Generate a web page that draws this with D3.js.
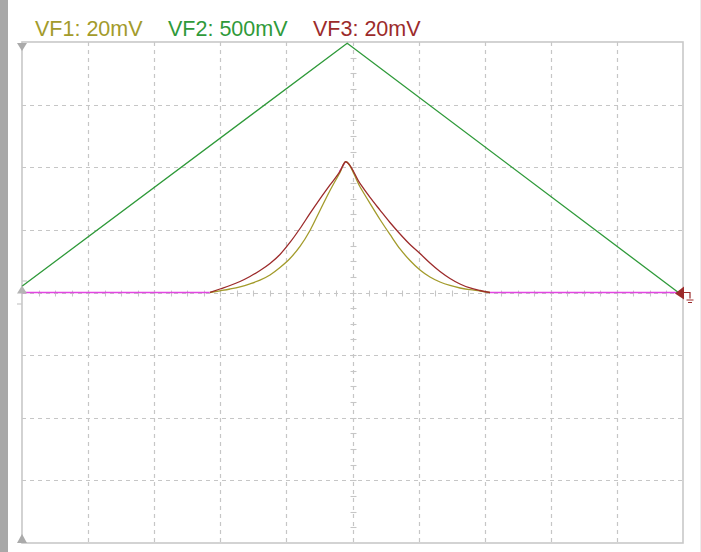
<!DOCTYPE html>
<html>
<head>
<meta charset="utf-8">
<script src="https://cdn.jsdelivr.net/npm/d3@7"></script>
<style>
  html, body { margin: 0; padding: 0; background: #ffffff; }
  svg { display: block; }
</style>
</head>
<body>
<svg id="chart" width="701" height="552"></svg>
<script>
// ---- data (x in divisions 0..10, y in divisions -4..4) ----
const legendLabels = ["VF1: 20mV", "VF2: 500mV", "VF3: 20mV"];

const vf2Green = [[0, 0.10], [4.92, 3.98], [9.93, 0.0]];

const vf1Olive = [
  [2.844, 0], [2.995, 0.027], [3.147, 0.056], [3.298, 0.091], [3.449, 0.139], [3.601, 0.198],
  [3.752, 0.280], [3.903, 0.399], [4.054, 0.543], [4.206, 0.735], [4.357, 0.990],
  [4.508, 1.310], [4.660, 1.629], [4.811, 1.917], [4.897, 2.088],
  [5.113, 1.688], [5.265, 1.422], [5.416, 1.166], [5.567, 0.927], [5.719, 0.695],
  [5.870, 0.511], [6.021, 0.359], [6.172, 0.248], [6.324, 0.168], [6.475, 0.112],
  [6.626, 0.072], [6.778, 0.045], [6.929, 0.024], [7.080, 0]
];

const vf3Red = [
  [2.844, 0], [2.995, 0.056], [3.147, 0.112], [3.298, 0.176], [3.449, 0.256], [3.601, 0.351],
  [3.752, 0.463], [3.903, 0.607], [4.054, 0.799], [4.206, 1.022], [4.357, 1.262],
  [4.508, 1.494], [4.660, 1.717], [4.811, 1.933], [4.897, 2.088],
  [5.113, 1.741], [5.265, 1.518], [5.416, 1.316], [5.567, 1.118], [5.719, 0.935],
  [5.870, 0.767], [6.021, 0.623], [6.172, 0.471], [6.324, 0.335], [6.475, 0.224],
  [6.626, 0.136], [6.778, 0.072], [6.929, 0.032], [7.080, 0]
];

const vf4Magenta = [
  [0, 0], [2.84, 0], null,
  [4.80, 1.93], [4.89, 2.08], null,
  [7.08, 0], [10, 0]
];

const xDivisions = d3.range(0, 11);
const yDivisions = d3.range(-4, 5);

// ---- layout ----
const svg = d3.select("#chart");
const x = d3.scaleLinear().domain([0, 10]).range([22, 683]);
const y = d3.scaleLinear().domain([-4, 4]).range([543, 42]);

const gridColor = "#c6c6c6";
const colOlive = "#a39b2b";
const colGreen = "#2f9a3a";
const colRed = "#9c2b2b";
const colMagenta = "#e246e2";

// left gray bar
svg.append("rect").attr("x", 0).attr("y", 0).attr("width", 8).attr("height", 552).attr("fill", "#a8a8a8");
// faint right edge
svg.append("line").attr("x1", 700.5).attr("x2", 700.5).attr("y1", 0).attr("y2", 552)
  .attr("stroke", "#ececec").attr("stroke-width", 1);

// grid
const g = svg.append("g");
g.selectAll(".vg").data(xDivisions.filter(d => d > 0 && d < 10)).enter().append("line")
  .attr("x1", d => Math.round(x(d)) + 0.5).attr("x2", d => Math.round(x(d)) + 0.5)
  .attr("y1", y(4)).attr("y2", y(-4))
  .attr("stroke", gridColor).attr("stroke-width", 1.2).attr("stroke-dasharray", "4,4");
g.selectAll(".hg").data(yDivisions.filter(d => d > -4 && d < 4)).enter().append("line")
  .attr("y1", d => Math.round(y(d)) + 0.5).attr("y2", d => Math.round(y(d)) + 0.5)
  .attr("x1", x(0)).attr("x2", x(10))
  .attr("stroke", gridColor).attr("stroke-width", 1.2).attr("stroke-dasharray", "4,4");

// minor ticks on centre axes
const cx = Math.round(x(5)) + 0.5, cy = Math.round(y(0)) + 0.5;
g.selectAll(".mtx").data(d3.range(0.25, 10, 0.25)).enter().append("line")
  .attr("x1", d => Math.round(x(d)) + 0.5).attr("x2", d => Math.round(x(d)) + 0.5)
  .attr("y1", cy - 3).attr("y2", cy + 3)
  .attr("stroke", gridColor).attr("stroke-width", 1.1);
g.selectAll(".mty").data(d3.range(-3.75, 4, 0.25)).enter().append("line")
  .attr("y1", d => Math.round(y(d)) + 0.5).attr("y2", d => Math.round(y(d)) + 0.5)
  .attr("x1", cx - 3).attr("x2", cx + 3)
  .attr("stroke", gridColor).attr("stroke-width", 1.1);

// frame
svg.append("rect").attr("x", x(0)).attr("y", y(4)).attr("width", x(10) - x(0)).attr("height", y(-4) - y(4))
  .attr("fill", "none").attr("stroke", "#c8c8c8").attr("stroke-width", 1.6);

// traces
const line = d3.line().defined(d => d !== null).x(d => x(d[0])).y(d => y(d[1]));
const smooth = d3.line().x(d => x(d[0])).y(d => y(d[1])).curve(d3.curveMonotoneX);
const traces = svg.append("g").attr("fill", "none").attr("stroke-width", 1.3).attr("stroke-linejoin", "round");
traces.append("path").datum(vf4Magenta).attr("d", line).attr("stroke", colMagenta);
traces.append("path").datum(vf2Green).attr("d", line).attr("stroke", colGreen);
traces.append("path").datum(vf1Olive).attr("d", smooth).attr("stroke", colOlive);
traces.append("path").datum(vf3Red).attr("d", smooth).attr("stroke", colRed);

// markers
const mk = svg.append("g");
mk.append("path").attr("d", `M${x(0) - 5},${y(4) + 1} L${x(0) + 5},${y(4) + 1} L${x(0)},${y(4) + 9} Z`).attr("fill", "#aaaaaa");
mk.append("path").attr("d", `M${x(0) - 5},${y(-4)} L${x(0) + 5},${y(-4)} L${x(0)},${y(-4) - 9} Z`).attr("fill", "#aaaaaa");
mk.append("path").attr("d", `M${x(0) - 5},${y(0) + 1} L${x(0) + 5},${y(0) + 1} L${x(0)},${y(0) - 7} Z`).attr("fill", "#b4b4b4");
mk.append("line").attr("x1", x(0)).attr("x2", x(0) + 5).attr("y1", y(0) - 11.5).attr("y2", y(0) - 11.5).attr("stroke", "#c8c8c8").attr("stroke-width", 1.2);
mk.append("line").attr("x1", x(0) - 5).attr("x2", x(0)).attr("y1", y(0) + 11.5).attr("y2", y(0) + 11.5).attr("stroke", "#c8c8c8").attr("stroke-width", 1.2);
// right reference marker (dark red) with ground symbol
const rx = x(10), ry = y(0);
mk.append("path").attr("d", `M${rx - 8},${ry + 1} L${rx + 1},${ry - 6} L${rx + 1},${ry + 7} Z`).attr("fill", colRed);
mk.append("path").attr("d", `M${rx},${ry} H${rx + 7} V${ry + 6}`).attr("fill", "none").attr("stroke", colRed).attr("stroke-width", 1.2);
mk.append("line").attr("x1", rx + 3.5).attr("x2", rx + 10.5).attr("y1", ry + 7.5).attr("y2", ry + 7.5).attr("stroke", colRed).attr("stroke-width", 1);
mk.append("line").attr("x1", rx + 5).attr("x2", rx + 9).attr("y1", ry + 10).attr("y2", ry + 10).attr("stroke", colRed).attr("stroke-width", 1);

// legend
const legendX = [35, 168, 313];
const legendColors = [colOlive, colGreen, colRed];
svg.append("g").selectAll("text").data(legendLabels).enter().append("text")
  .attr("x", (d, i) => legendX[i]).attr("y", 36)
  .attr("fill", (d, i) => legendColors[i])
  .attr("font-family", "'Liberation Sans', Arial, sans-serif")
  .attr("font-size", "21.5px")
  .text(d => d);
</script>
</body>
</html>
